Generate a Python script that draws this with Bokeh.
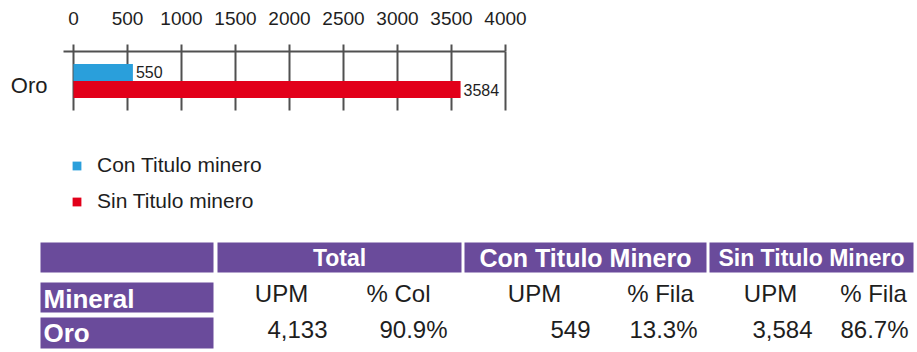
from bokeh.plotting import figure
from bokeh.models import Range1d, FixedTicker, Legend, LegendItem, ColumnDataSource
from bokeh.embed import file_html
from bokeh.resources import INLINE
from bokeh.core.properties import value
from bokeh.transform import dodge

# ---- data -------------------------------------------------------------
minerals = ["Oro"]
con_titulo = [550]
sin_titulo = [3584]
x_ticks = [0, 500, 1000, 1500, 2000, 2500, 3000, 3500, 4000]
series_names = ["Con Titulo minero", "Sin Titulo minero"]

group_headers = ["Total", "Con Titulo Minero", "Sin Titulo Minero"]
sub_headers = ["UPM", "% Col", "UPM", "% Fila", "UPM", "% Fila"]
row_header = "Mineral"
total_upm = [4133]
total_pct = [90.9]
con_upm = [549]
con_pct = [13.3]
sin_upm = [3584]
sin_pct = [86.7]

# ---- style / layout -----------------------------------------------------
FONT = "Liberation Sans"
BLUE = "#2a9fdb"
RED = "#e2001a"
GRID = "#505050"
PURPLE = "#6a4b9b"
INK = "#1e1e1e"

W, H = 917, 352
TOP = 51            # height of the tick-label strip above the chart
ZERO_PX = 73        # horizontal position of the value axis origin
PX_PER_UNIT = 0.108
BAND_PX = 59        # height of one category band
AXIS_START = -92    # axis line begins a little left of zero
frame_h = H - TOP

p = figure(width=W, height=H,
           x_range=Range1d(-ZERO_PX / PX_PER_UNIT, (W - ZERO_PX) / PX_PER_UNIT),
           y_range=Range1d(1 - frame_h / BAND_PX, 1),
           x_axis_location="above", y_axis_location=None,
           output_backend="svg", toolbar_location=None,
           min_border_left=0, min_border_right=0, min_border_top=TOP, min_border_bottom=0)
p.outline_line_color = None
p.xgrid.visible = False
p.ygrid.visible = False

# ---- bar chart ----------------------------------------------------------
y_pos = [i + 0.5 for i in range(len(minerals))]
src = ColumnDataSource(dict(
    y=y_pos, con=con_titulo, sin=sin_titulo, name=minerals,
    con_lbl=[str(v) for v in con_titulo], sin_lbl=[str(v) for v in sin_titulo],
))

# vertical guide line at every tick, spanning the category band
p.segment(x0=x_ticks, x1=x_ticks, y0=0, y1=len(minerals), line_color=GRID,
          line_width=2, level="underlay")

r_con = p.hbar(y=dodge("y", 0.145), left=0, right="con", height=0.29, source=src,
               fill_color=BLUE, line_color=None)
r_sin = p.hbar(y=dodge("y", -0.145), left=0, right="sin", height=0.29, source=src,
               fill_color=RED, line_color=None)

for col, lbl, off in (("con", "con_lbl", 0.145), ("sin", "sin_lbl", -0.145)):
    p.text(x=col, y=dodge("y", off), text=lbl, source=src, x_offset=3,
           text_baseline="middle", text_align="left", text_font=value(FONT),
           text_font_size="16px", text_color=INK)

# category names to the left of the band
p.text(x=0, y="y", text="name", source=src, x_offset=-26, y_offset=4,
       text_align="right", text_baseline="middle", text_font=value(FONT),
       text_font_size="22px", text_color=INK)

xa = p.xaxis[0]
xa.ticker = FixedTicker(ticks=x_ticks)
xa.bounds = (AXIS_START, x_ticks[-1])
xa.axis_line_color = GRID
xa.axis_line_width = 2
xa.major_tick_line_color = GRID
xa.major_tick_line_width = 2
xa.major_tick_out = 7
xa.major_tick_in = 0
xa.minor_tick_line_color = None
xa.major_label_standoff = 20
xa.major_label_text_font = FONT
xa.major_label_text_font_size = "19px"
xa.major_label_text_color = INK

legend = Legend(
    items=[LegendItem(label=series_names[0], renderers=[r_con]),
           LegendItem(label=series_names[1], renderers=[r_sin])],
    location=(71, 139), orientation="vertical",
    glyph_width=11, glyph_height=11, label_standoff=15, label_height=24, spacing=12,
    padding=0, margin=0, border_line_color=None, background_fill_alpha=0,
    label_text_font=FONT, label_text_font_size="21px", label_text_color=INK,
    label_text_baseline="alphabetic",
)
p.add_layout(legend)

# ---- summary table (pixel-like coordinates, origin at the table's top) ----
TABLE_TOP = 235
p.extra_x_ranges = {"tx": Range1d(0, W)}
p.extra_y_ranges = {"ty": Range1d(H - TABLE_TOP, TOP - TABLE_TOP)}
T = dict(x_range_name="tx", y_range_name="ty")

header_row = (7, 37)
sub_row = (47, 77)
value_row = (82, 113)
label_col = (40, 213)
group_cols = [(217, 461), (464, 706), (709, 913)]

cells_l = [label_col[0]] + [c[0] for c in group_cols] + [label_col[0], label_col[0]]
cells_r = [label_col[1]] + [c[1] for c in group_cols] + [label_col[1], label_col[1]]
cells_t = [header_row[0]] * 4 + [sub_row[0], value_row[0]]
cells_b = [header_row[1]] * 4 + [sub_row[1], value_row[1]]
p.quad(left=cells_l, right=cells_r, top=cells_t, bottom=cells_b,
       fill_color=PURPLE, line_color=None, **T)

p.text(x=[(a + b) / 2 for a, b in group_cols], y=[22] * 3, text=group_headers,
       text_font_size=["23px", "25px", "23px"], text_font=value(FONT),
       text_font_style="bold", text_color="white", text_align="center",
       text_baseline="middle", **T)

p.text(x=[43, 43], y=[63, 97], text=[row_header, minerals[0]],
       text_font=value(FONT), text_font_size="26px", text_font_style="bold",
       text_color="white", text_align="left", text_baseline="middle", **T)

p.text(x=[281, 398, 534, 660, 770, 873], y=[58] * 6, text=sub_headers,
       text_font=value(FONT), text_font_size="24px", text_color=INK,
       text_align="center", text_baseline="middle", **T)

values = [f"{total_upm[0]:,}", f"{total_pct[0]:.1f}%", f"{con_upm[0]:,}",
          f"{con_pct[0]:.1f}%", f"{sin_upm[0]:,}", f"{sin_pct[0]:.1f}%"]
p.text(x=[327, 447, 590, 697, 812, 908], y=[94] * 6, text=values,
       text_font=value(FONT), text_font_size="24px", text_color=INK,
       text_align="right", text_baseline="middle", **T)

open("out.html", "w").write(file_html(p, INLINE))
